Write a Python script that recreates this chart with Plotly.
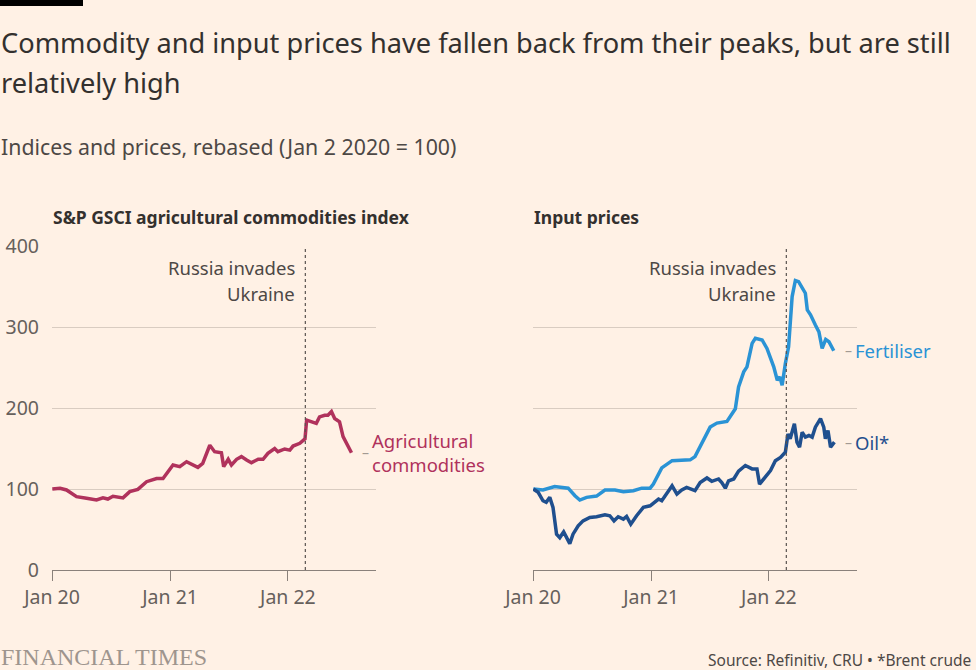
import plotly.graph_objects as go

# ---------------- data ----------------
agri_dates = ["2020-01-02", "2020-01-26", "2020-02-15", "2020-03-17", "2020-04-17", "2020-05-18",
              "2020-06-07", "2020-06-22", "2020-07-08", "2020-08-08", "2020-08-29", "2020-09-23",
              "2020-10-20", "2020-11-20", "2020-12-10", "2021-01-10", "2021-01-31", "2021-02-21",
              "2021-03-28", "2021-04-12", "2021-05-04", "2021-05-19", "2021-06-09", "2021-06-16",
              "2021-06-30", "2021-07-10", "2021-07-26", "2021-08-10", "2021-08-26", "2021-09-10",
              "2021-10-01", "2021-10-16", "2021-10-31", "2021-11-21", "2021-12-01", "2021-12-22",
              "2022-01-07", "2022-01-17", "2022-02-07", "2022-02-23", "2022-02-28", "2022-03-20",
              "2022-03-30", "2022-04-09", "2022-04-25", "2022-05-05", "2022-05-16", "2022-05-26",
              "2022-06-10", "2022-06-21", "2022-07-01", "2022-07-17"]
agri_values = [100, 101, 98.8, 90.5, 88.5, 86.4,
               89, 87.6, 91, 89, 96.7, 99.6,
               109, 113, 113, 129.6, 127.6, 133.7,
               126.7, 131.7, 154, 146, 144.8, 127.6,
               136.7, 129.6, 136.7, 140, 135.8, 132.5,
               136.7, 136.7, 144, 150, 146, 149.4,
               148, 153, 156.4, 162, 185, 183,
               181, 189, 191, 191, 195.5, 187,
               183, 164.6, 156.4, 144.8]

fert_dates = ["2020-01-02", "2020-02-01", "2020-03-08", "2020-04-19", "2020-05-10", "2020-05-25",
              "2020-06-15", "2020-07-16", "2020-08-11", "2020-09-11", "2020-10-07", "2020-11-07",
              "2020-12-03", "2020-12-29", "2021-01-08", "2021-02-03", "2021-03-07", "2021-04-06",
              "2021-05-02", "2021-05-17", "2021-06-07", "2021-07-03", "2021-07-24", "2021-08-24",
              "2021-09-19", "2021-09-29", "2021-10-15", "2021-10-25", "2021-11-10", "2021-11-20",
              "2021-12-11", "2021-12-26", "2022-01-16", "2022-01-27", "2022-02-04", "2022-02-11",
              "2022-02-21", "2022-03-03", "2022-03-14", "2022-03-24", "2022-04-03", "2022-04-14",
              "2022-04-24", "2022-04-30", "2022-05-10", "2022-05-25", "2022-06-05", "2022-06-15",
              "2022-06-26", "2022-07-06", "2022-07-21"]
fert_values = [100, 98.8, 103, 101, 91.7, 86.4,
               89.7, 91.3, 98.8, 98.8, 96.7, 97.9,
               101, 101, 106, 126, 135, 136,
               136, 140, 155.8, 176.4, 181.4, 183.5,
               199, 226, 244.6, 250.8, 279.8, 286,
               284, 273.5, 250.8, 234.3, 238.4, 228,
               255, 275.6, 337.6, 357.4, 356, 348,
               341.7, 321, 315, 302.5, 294, 273.5,
               284.7, 281.8, 270.7]

oil_dates = ["2020-01-02", "2020-01-17", "2020-02-01", "2020-02-11", "2020-02-22", "2020-03-03",
             "2020-03-14", "2020-03-24", "2020-04-05", "2020-04-16", "2020-04-24", "2020-05-04",
             "2020-05-20", "2020-06-04", "2020-06-25", "2020-07-16", "2020-08-11", "2020-08-26",
             "2020-09-08", "2020-09-21", "2020-10-07", "2020-10-17", "2020-10-30", "2020-11-17",
             "2020-12-08", "2020-12-29", "2021-01-08", "2021-01-24", "2021-02-03", "2021-02-18",
             "2021-03-07", "2021-03-22", "2021-04-06", "2021-04-21", "2021-05-02", "2021-05-17",
             "2021-06-02", "2021-06-23", "2021-07-08", "2021-07-29", "2021-08-08", "2021-08-19",
             "2021-08-29", "2021-09-14", "2021-09-29", "2021-10-20", "2021-11-10", "2021-11-25",
             "2021-12-03", "2021-12-16", "2022-01-06", "2022-01-21", "2022-02-06", "2022-02-21",
             "2022-03-01", "2022-03-08", "2022-03-21", "2022-03-29", "2022-04-06", "2022-04-14",
             "2022-04-24", "2022-05-05", "2022-05-15", "2022-05-25", "2022-06-10", "2022-06-20",
             "2022-06-25", "2022-07-03", "2022-07-11", "2022-07-23"]
oil_values = [100, 95.9, 85.5, 83.5, 89.7, 77.3,
              44.2, 40, 47, 38, 32.6, 44.2,
              54.5, 60.7, 64.9, 65.7, 68.2, 67,
              60.7, 65.7, 62.8, 66.1, 56.6, 67,
              77.3, 79.3, 82.2, 87.6, 85.5, 93.8,
              104, 93.8, 98.8, 102, 100, 98,
              108, 113.6, 109.5, 112.4, 108, 101,
              110, 112.4, 122, 129, 124.8, 124.8,
              106, 112.4, 122.7, 135, 139, 145.5,
              168, 162, 180.6, 157.9, 151.7, 170,
              164, 166, 164, 176.4, 186.8, 176.4,
              162, 172.3, 151.7, 157.9]

x_tick_vals = ["2020-01-01", "2021-01-01", "2022-01-01"]
x_tick_text = ["Jan 20", "Jan 21", "Jan 22"]
y_tick_vals = [0, 100, 200, 300, 400]
x_range = ["2020-01-01", "2022-10-01"]
invasion_date = "2022-02-24"

# ---------------- style ----------------
BG = "#fff1e5"
FONT = "Noto Sans"
AGRI_C = "#b0325c"
FERT_C = "#2a93d5"
OIL_C = "#1f4f8e"
GRID_C = "#d9ccc1"
AXIS_C = "#8a817b"
TEXT_DARK = "#33302e"
TEXT_MID = "#4d4845"
TICK_C = "#66605c"
DASH_C = "#a39a93"

W, H = 976, 670
ML, MR, MT, MB = 52, 119, 246, 100
PW, PH = W - ML - MR, H - MT - MB


def px(x):
    return (x - ML) / PW


def py(y):
    return (H - MB - y) / PH


fig = go.Figure()

fig.add_trace(go.Scatter(x=agri_dates, y=agri_values, mode="lines",
                         line=dict(color=AGRI_C, width=3.5), xaxis="x", yaxis="y",
                         showlegend=False, hoverinfo="skip"))
fig.add_trace(go.Scatter(x=fert_dates, y=fert_values, mode="lines",
                         line=dict(color=FERT_C, width=3.5), xaxis="x2", yaxis="y2",
                         showlegend=False, hoverinfo="skip"))
fig.add_trace(go.Scatter(x=oil_dates, y=oil_values, mode="lines",
                         line=dict(color=OIL_C, width=3.5), xaxis="x2", yaxis="y2",
                         showlegend=False, hoverinfo="skip"))

xcommon = dict(type="date", range=x_range, tickvals=x_tick_vals, ticktext=x_tick_text,
               showgrid=False, showline=True, linecolor=AXIS_C, linewidth=1,
               ticks="outside", ticklen=10, tickcolor=AXIS_C, tickwidth=1,
               tickfont=dict(family=FONT, size=19.5, color=TICK_C), zeroline=False,
               fixedrange=True, automargin=False)
ycommon = dict(range=[0, 400], tickvals=y_tick_vals, showgrid=True, gridcolor=GRID_C,
               gridwidth=1, zeroline=False, showline=False, ticks="", fixedrange=True,
               tickfont=dict(family=FONT, size=19.5, color=TICK_C), automargin=False)

fig.update_layout(
    width=W, height=H,
    paper_bgcolor=BG, plot_bgcolor=BG,
    margin=dict(l=ML, r=MR, t=MT, b=MB, autoexpand=False),
    xaxis=dict(domain=[0, px(376)], anchor="y", **xcommon),
    xaxis2=dict(domain=[px(533), 1], anchor="y2", **xcommon),
    yaxis=dict(anchor="x", showticklabels=True, ticklabelstandoff=12, **ycommon),
    yaxis2=dict(anchor="x2", showticklabels=False, **ycommon),
)

shapes = []
for xr in ("x", "x2"):
    shapes.append(dict(type="line", xref=xr, yref="y domain", x0=invasion_date, x1=invasion_date,
                       y0=0, y1=1, line=dict(color="#5a5450", width=1.2, dash="dot"), layer="above"))
# top black bar
shapes.append(dict(type="rect", xref="paper", yref="paper", x0=px(0), x1=px(83),
                   y0=py(6), y1=py(0), fillcolor="#000000", line=dict(width=0)))
fig.update_layout(shapes=shapes)

ann = []


def text(t, x, y, size, color, family=FONT, xanchor="left", xref="paper", yref="paper"):
    ann.append(dict(text=t, xref=xref, yref=yref, x=x, y=y, xanchor=xanchor, yanchor="middle",
                    showarrow=False, font=dict(family=family, size=size, color=color)))


# titles
text("Commodity and input prices have fallen back from their peaks, but are still", px(-1), py(42), 27.2, TEXT_DARK)
text("relatively high", px(-1), py(82), 27.2, TEXT_DARK)
text("Indices and prices, rebased (Jan 2 2020 = 100)", px(-1), py(146), 21.3, TEXT_MID)
text("<b>S&P GSCI agricultural commodities index</b>", px(51), py(217), 17.5, TEXT_DARK)
text("<b>Input prices</b>", px(532), py(217), 17.5, TEXT_DARK)

# invasion labels
for xr in ("x", "x2"):
    for line, yy in (("Russia invades", 267), ("Ukraine", 293)):
        ann.append(dict(text=line, xref=xr, yref="paper", x=invasion_date, y=py(yy),
                        xanchor="right", yanchor="middle", xshift=-8,
                        showarrow=False, font=dict(family=FONT, size=18.5, color=TEXT_MID)))


# series labels (anchored to last data point)
def series_label(label, xr, yr, xv, yv, color):
    ann.append(dict(text="–", xref=xr, yref=yr, x=xv, y=yv, xanchor="left", yanchor="middle",
                    xshift=9, showarrow=False, font=dict(family=FONT, size=14, color=DASH_C)))
    ann.append(dict(text=label, xref=xr, yref=yr, x=xv, y=yv, xanchor="left", yanchor="middle",
                    align="left", xshift=19, showarrow=False,
                    font=dict(family=FONT, size=18.5, color=color)))


series_label("Agricultural<br>commodities", "x", "y", agri_dates[-1], agri_values[-1], AGRI_C)
series_label("Fertiliser", "x2", "y2", fert_dates[-1], fert_values[-1], FERT_C)
series_label("Oil*", "x2", "y2", oil_dates[-1], oil_values[-1], OIL_C)

# footer
text("FINANCIAL TIMES", px(-1), py(657), 24, "#9e958e", family="Liberation Serif")
text("Source: Refinitiv, CRU • *Brent crude", px(706), py(660), 15.5, TEXT_MID)
fig.update_layout(annotations=ann)

fig.write_html("out.html", config={"displayModeBar": False},
               post_script="document.body.style.margin='0';document.body.style.padding='0';")
